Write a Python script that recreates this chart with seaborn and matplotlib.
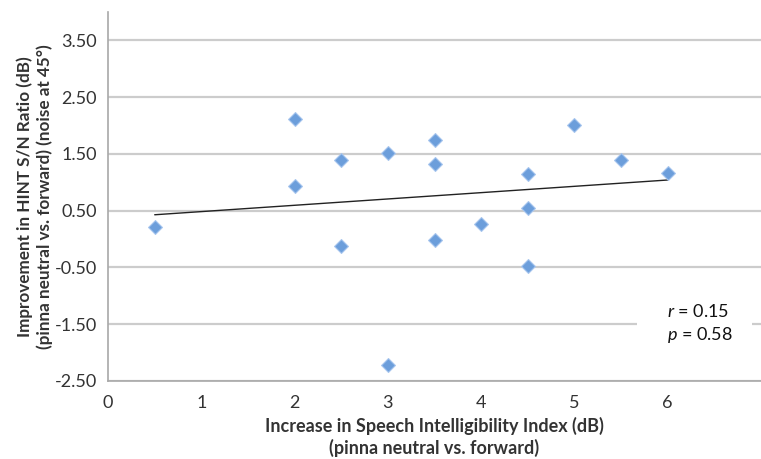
import numpy as np
import pandas as pd
import matplotlib
matplotlib.use("Agg")
import matplotlib.pyplot as plt
from matplotlib.patches import Rectangle
import seaborn as sns

# Data
sii_increase = [0.5, 2, 2, 2.5, 2.5, 3, 3, 3.5, 3.5, 3.5, 4, 4.5, 4.5, 4.5, 5, 5.5, 6]
hint_improvement = [0.22, 2.12, 0.94, 1.40, -0.13, 1.52, -2.21, 1.75, 1.33, -0.01,
                    0.27, 1.15, 0.55, -0.47, 2.00, 1.40, 1.17]
y_ticks = [-2.5, -1.5, -0.5, 0.5, 1.5, 2.5, 3.5]
x_ticks = [0, 1, 2, 3, 4, 5, 6, 7]
x_tick_labels = ["0", "1", "2", "3", "4", "5", "6", ""]
stats_text = ["r = 0.15", "p = 0.58"]

df = pd.DataFrame({"x": sii_increase, "y": hint_improvement})

sns.set_style("white")
plt.rcParams['font.family'] = ['Lato', 'DejaVu Sans']
plt.rcParams['mathtext.fontset'] = 'custom'
plt.rcParams['mathtext.it'] = 'Lato:italic'
plt.rcParams['mathtext.rm'] = 'Lato'

fig = plt.figure(figsize=(7.61, 4.59), dpi=100)
ax = fig.add_axes([0.142, 0.170, 0.858, 0.804])

ax.set_xlim(0, 7.0)
ax.set_ylim(-2.5, 4.0)

ax.set_yticks(y_ticks)
ax.set_yticklabels([f"{v:.2f}" for v in y_ticks])
ax.set_xticks(x_ticks)
ax.set_xticklabels(x_tick_labels)

ax.yaxis.grid(True, color='#cccccc', linewidth=1.6)
ax.set_axisbelow(True)

# white box behind the statistics text (interrupts the grid line)
ax.add_patch(Rectangle((0.81, 0.115), 0.176, 0.11, transform=ax.transAxes,
                       facecolor='white', edgecolor='none', zorder=1.5))

# trend line
sns.regplot(data=df, x="x", y="y", ax=ax, ci=None, truncate=True,
            scatter=False, line_kws=dict(color='#222222', linewidth=1.0))

sns.scatterplot(data=df, x="x", y="y", ax=ax, marker='D', s=50,
                color='#6c9edb', edgecolor='#a8c6ee', linewidth=0.8, zorder=5)

for side in ['top', 'right']:
    ax.spines[side].set_visible(False)
for side in ['left', 'bottom']:
    ax.spines[side].set_color('#a8a8a8')
    ax.spines[side].set_linewidth(1.2)

ax.tick_params(axis='both', which='both', direction='out', length=5, width=1.0,
               color='#a8a8a8', labelsize=13, labelcolor='#333333', pad=5)
ax.tick_params(axis='y', pad=3)

ax.set_xlabel("Increase in Speech Intelligibility Index (dB)\n(pinna neutral vs. forward)",
              fontsize=13, fontweight='bold', color='#333333', linespacing=1.27)
ax.set_ylabel("Improvement in HINT S/N Ratio (dB)\n(pinna neutral vs. forward) (noise at 45°)",
              fontsize=12.3, fontweight='bold', color='#333333', linespacing=1.3)
ax.xaxis.set_label_coords(0.5, -0.098)
ax.yaxis.set_label_coords(-0.084, 0.5)

r_txt = "$\\it{r}$" + stats_text[0][1:]
p_txt = "$\\it{p}$" + stats_text[1][1:]
ax.text(0.856, 0.155, r_txt + "\n" + p_txt, transform=ax.transAxes,
        fontsize=13, color='#111111', ha='left', va='center', linespacing=1.3,
        zorder=6)

fig.savefig("out.png", dpi=100)
